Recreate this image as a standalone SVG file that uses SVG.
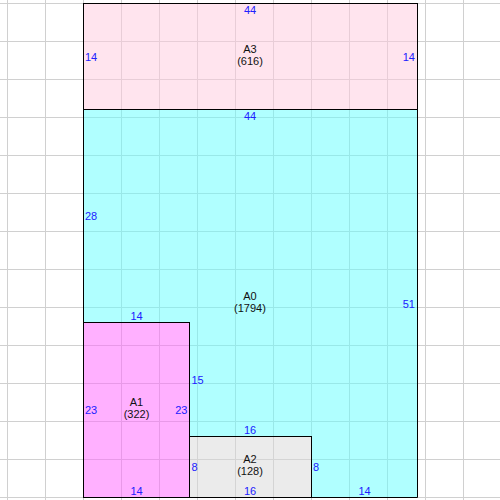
<svg xmlns="http://www.w3.org/2000/svg" width="500" height="500" viewBox="0 0 500 500">
<style>
.room{stroke:#000;stroke-width:1;fill-opacity:0.5}
.grid line{stroke:#d0d0d0;stroke-width:1}
.dim{font-family:"Liberation Sans",Arial,sans-serif;font-size:11px;fill:#2020ff}
.name{font-family:"Liberation Sans",Arial,sans-serif;font-size:11px;fill:#111;text-anchor:middle}
.m{text-anchor:middle}
.e{text-anchor:end}
</style>
<rect x="0" y="0" width="500" height="500" fill="#fff"/>
<g class="grid">
<line x1="7.5" y1="0" x2="7.5" y2="500"/>
<line x1="45.5" y1="0" x2="45.5" y2="500"/>
<line x1="83.5" y1="0" x2="83.5" y2="500"/>
<line x1="121.5" y1="0" x2="121.5" y2="500"/>
<line x1="159.5" y1="0" x2="159.5" y2="500"/>
<line x1="197.5" y1="0" x2="197.5" y2="500"/>
<line x1="235.5" y1="0" x2="235.5" y2="500"/>
<line x1="273.5" y1="0" x2="273.5" y2="500"/>
<line x1="311.5" y1="0" x2="311.5" y2="500"/>
<line x1="349.5" y1="0" x2="349.5" y2="500"/>
<line x1="387.5" y1="0" x2="387.5" y2="500"/>
<line x1="425.5" y1="0" x2="425.5" y2="500"/>
<line x1="463.5" y1="0" x2="463.5" y2="500"/>
<line x1="0" y1="3.5" x2="500" y2="3.5"/>
<line x1="0" y1="41.5" x2="500" y2="41.5"/>
<line x1="0" y1="79.5" x2="500" y2="79.5"/>
<line x1="0" y1="117.5" x2="500" y2="117.5"/>
<line x1="0" y1="155.5" x2="500" y2="155.5"/>
<line x1="0" y1="193.5" x2="500" y2="193.5"/>
<line x1="0" y1="231.5" x2="500" y2="231.5"/>
<line x1="0" y1="269.5" x2="500" y2="269.5"/>
<line x1="0" y1="307.5" x2="500" y2="307.5"/>
<line x1="0" y1="345.5" x2="500" y2="345.5"/>
<line x1="0" y1="383.5" x2="500" y2="383.5"/>
<line x1="0" y1="421.5" x2="500" y2="421.5"/>
<line x1="0" y1="459.5" x2="500" y2="459.5"/>
<line x1="0" y1="497.5" x2="500" y2="497.5"/>
</g>
<g id="A3">
<rect class="room" x="83.5" y="3.5" width="334" height="106" fill="#ffc9dd"/>
</g>
<g id="A0">
<path class="room" d="M83.5 109.5H417.5V497.5H311.5V436.5H189.5V322.5H83.5Z" fill="#61ffff"/>
</g>
<g id="A1">
<rect class="room" x="83.5" y="322.5" width="106" height="175" fill="#ff61ff"/>
</g>
<g id="A2">
<rect class="room" x="189.5" y="436.5" width="122" height="61" fill="#d7d7d7"/>
</g>
<g id="labels">
<text class="dim m" x="250" y="14">44</text>
<text class="dim" x="85" y="61">14</text>
<text class="dim e" x="415" y="61">14</text>
<text class="name" x="250" y="53">A3</text>
<text class="name" x="250" y="65">(616)</text>
<text class="dim m" x="250" y="120">44</text>
<text class="dim" x="85" y="220">28</text>
<text class="dim e" x="415" y="308">51</text>
<text class="name" x="250" y="300">A0</text>
<text class="name" x="250" y="312">(1794)</text>
<text class="dim m" x="136.5" y="320">14</text>
<text class="dim" x="191.5" y="384">15</text>
<text class="dim m" x="250" y="434">16</text>
<text class="dim" x="313" y="471">8</text>
<text class="dim m" x="364.5" y="495">14</text>
<text class="dim" x="85" y="414">23</text>
<text class="dim e" x="187.5" y="414">23</text>
<text class="name" x="136.5" y="406">A1</text>
<text class="name" x="136.5" y="418">(322)</text>
<text class="dim m" x="136.5" y="495">14</text>
<text class="dim" x="191.5" y="471">8</text>
<text class="name" x="250" y="463">A2</text>
<text class="name" x="250" y="475">(128)</text>
<text class="dim m" x="250" y="495">16</text>
</g>
</svg>
